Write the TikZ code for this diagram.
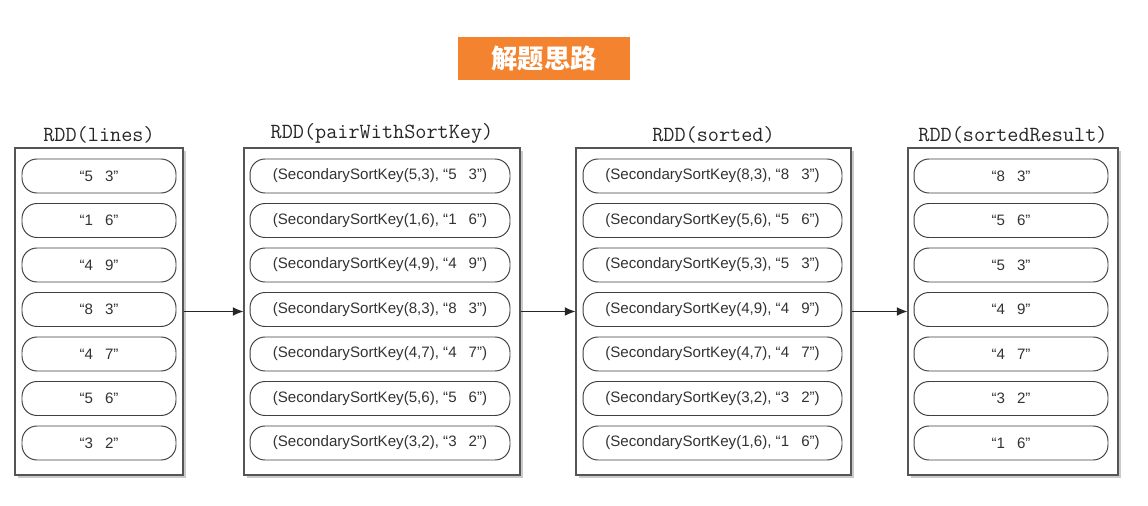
\documentclass[tikz,border=0pt]{standalone}
\usepackage{fontspec}
\setmainfont{Liberation Sans}
\newfontfamily\cjk{Noto Sans CJK SC}
\usepackage{xcolor}
\usetikzlibrary{arrows, arrows.meta, positioning, shadows}
\definecolor{bannerorange}{HTML}{F3832E}
\definecolor{edgegray}{HTML}{555555}
\tikzstyle{arrow}    = [semithick,-{Latex[length=6pt,width=5pt]}, draw=black!85]
\tikzstyle{rdd}      = [rectangle, draw=edgegray, line width=0.7pt, fill=white, minimum height=6.54cm,
                        drop shadow={shadow xshift=1.5pt, shadow yshift=-1.5pt, fill=black!35, opacity=0.6}]
\tikzstyle{rddtitle} = [anchor=south, inner sep=2pt, font=\ttfamily\fontsize{12.3}{13}\selectfont, text=black!85]
\tikzstyle{item}     = [rectangle, draw=black!75, line width=0.55pt, rounded corners=8.5pt, minimum height=0.68cm,
                        font=\fontsize{8.6}{9}\selectfont, text=black!80]
\tikzstyle{banner}   = [rectangle, fill=bannerorange, text=white, minimum width=3.44cm, minimum height=0.86cm,
                        font=\cjk\bfseries\fontsize{15}{16}\selectfont]
\newcommand{\gap}{\hspace{0.8em}}

\begin{document}
\begin{tikzpicture}[x=0.02cm, y=-0.02cm]
  \useasboundingbox (0,0) rectangle (1148,506);

  % heading
  \node[banner] (heading) at (544,58.5) {解题思路};

  % the four RDDs
  \node[rdd, minimum width=3.36cm] (lines)  at (99,311.5)   {};
  \node[rdd, minimum width=5.52cm] (pair)   at (382,311.5)  {};
  \node[rdd, minimum width=5.5cm]  (sorted) at (713.5,311.5) {};
  \node[rdd, minimum width=4.2cm]  (result) at (1013,311.5) {};

  \node[rddtitle] (tlines)  at (lines.north)  {RDD(lines)};
  \node[rddtitle] (tpair)   at (pair.north)   {RDD(pairWithSortKey)};
  \node[rddtitle] (tsorted) at (sorted.north) {RDD(sorted)};
  \node[rddtitle] (tresult) at (result.north) {RDD(sortedResult)};

  % records, input order
  \foreach \a/\b [count=\i] in {5/3,1/6,4/9,8/3,4/7,5/6,3/2} {
      \node[item, minimum width=3.08cm] (l\i) at (99,{176+44.5*(\i-1)}) {“\a\gap\b”};
      \node[item, minimum width=5.2cm]  (p\i) at (380,{176+44.5*(\i-1)}) {(SecondarySortKey(\a,\b), “\a\gap\b”)};
  }

  % records, sorted order
  \foreach \a/\b [count=\i] in {8/3,5/6,5/3,4/9,4/7,3/2,1/6} {
      \node[item, minimum width=5.18cm] (s\i) at (712.5,{176+44.5*(\i-1)}) {(SecondarySortKey(\a,\b), “\a\gap\b”)};
      \node[item, minimum width=3.88cm] (r\i) at (1011,{176+44.5*(\i-1)}) {“\a\gap\b”};
  }

  % transformations
  \draw[arrow] (lines)  -- (pair);
  \draw[arrow] (pair)   -- (sorted);
  \draw[arrow] (sorted) -- (result);
\end{tikzpicture}
\end{document}
